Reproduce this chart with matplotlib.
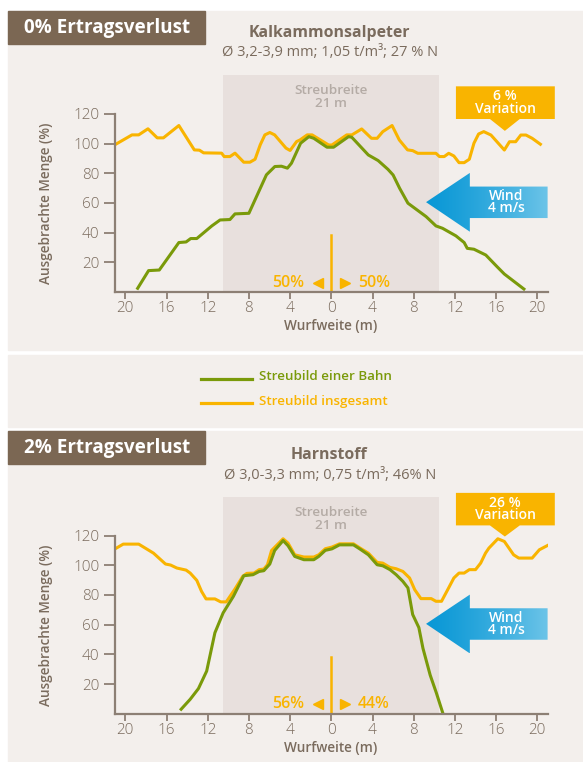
import numpy as np
import matplotlib
matplotlib.use("Agg")
import matplotlib.pyplot as plt
from matplotlib.patches import Rectangle, Polygon
from matplotlib.colors import to_rgb

plt.rcParams['font.family'] = ['Open Sans', 'DejaVu Sans']

# ---- data ----
# Kalkammonsalpeter, 0% Ertragsverlust
ka_gesamt_x = [-20.9, -19.35, -18.7, -17.8, -16.9, -16.3, -14.8, -13.3, -12.8, -12.4, -10.65, -10.4,
               -9.84, -9.35, -8.5, -7.9, -7.4, -6.9, -6.45, -5.97, -5.5, -4.4, -4.0, -3.37, -3.04,
               -2.34, -1.86, -0.26, 0.06, 1.5, 2.0, 2.95, 3.9, 4.45, 5.0, 5.9, 6.6, 7.4, 7.9, 8.4,
               10.16, 10.5, 10.96, 11.4, 11.9, 12.4, 12.9, 13.4, 13.85, 14.3, 14.8, 15.5, 16.8,
               17.3, 17.9, 18.4, 18.9, 19.5, 20.3]
ka_gesamt_y = [99.6, 105.8, 105.8, 109.9, 103.8, 103.8, 112.1, 95.7, 95.5, 93.7, 93.5, 91.2,
               91.2, 93.5, 87.4, 87.4, 89.4, 99.1, 105.8, 107.4, 105.8, 96.9, 95.3, 101.3, 102.4,
               105.8, 105.8, 99.0, 99.0, 105.8, 105.8, 109.8, 103.5, 103.5, 108.0, 112.1, 102.4,
               95.7, 95.2, 93.4, 93.4, 91.2, 91.2, 93.4, 91.6, 87.1, 87.1, 89.4, 100.2, 106.4,
               108.0, 105.7, 95.6, 101.2, 101.2, 105.7, 105.7, 103.5, 99.5]
ka_bahn_x = [-18.8, -17.74, -16.7, -14.8, -14.1, -13.65, -13.06, -11.6, -10.8, -9.84, -9.35, -8.0,
             -6.3, -5.48, -4.84, -4.26, -3.87, -2.98, -2.18, -1.7, -0.42, 0.22, 1.67, 1.99, 3.59,
             4.55, 5.5, 6.0, 6.63, 7.44, 9.2, 10.16, 10.8, 12.1, 12.9, 13.2, 13.85, 15.0, 16.1,
             16.8, 18.7]
ka_bahn_y = [2.5, 14.4, 14.8, 33.3, 33.7, 36.0, 36.0, 44.5, 48.5, 48.8, 52.6, 53.0,
             78.9, 84.5, 84.7, 83.4, 86.7, 100.2, 104.6, 103.5, 97.5, 97.5, 104.6, 104.2, 92.3,
             88.5, 82.6, 78.8, 69.9, 59.8, 50.8, 44.5, 42.9, 37.8, 33.3, 29.4, 28.8, 24.9, 17.0,
             12.1, 2.0]

# Harnstoff, 2% Ertragsverlust
ha_gesamt_x = [-20.87, -20.2, -18.7, -18.06, -17.26, -16.1, -15.6, -15.0, -14.1, -13.7, -13.06,
               -12.6, -12.16, -11.3, -10.74, -10.2, -9.35, -8.6, -8.2, -7.5, -7.0, -6.55, -6.2,
               -5.8, -4.68, -4.2, -3.55, -2.66, -1.7, -1.22, -0.58, 0.06, 0.8, 2.15, 2.8, 3.6,
               4.45, 5.0, 5.7, 6.3, 6.95, 7.6, 8.1, 8.7, 9.7, 10.16, 10.7, 11.3, 11.9, 12.4, 12.9,
               13.4, 14.0, 14.5, 14.97, 15.3, 16.17, 16.8, 17.7, 18.2, 19.5, 20.2, 21.0]
ha_gesamt_y = [111.5, 114.2, 114.2, 111.5, 108.1, 100.8, 100.1, 98.1, 96.7, 94.7, 89.8,
               82.4, 77.3, 77.3, 75.3, 75.3, 84.0, 92.5, 94.5, 94.7, 97.0, 97.4, 100.3,
               109.9, 117.8, 114.9, 107.0, 105.5, 105.5, 107.0, 111.1, 112.2, 114.4, 114.4, 111.5,
               108.1, 101.9, 101.4, 98.5, 97.6, 95.8, 91.4, 83.5, 77.5, 77.5, 75.7, 75.7, 83.5,
               91.4, 94.7, 94.7, 97.0, 97.0, 101.4, 108.1, 111.5, 117.8, 116.0, 107.0, 104.8,
               104.8, 110.4, 113.3]
ha_bahn_x = [-14.58, -13.7, -12.9, -12.1, -11.3, -10.5, -9.5, -8.5, -7.6, -7.0, -6.55, -5.97,
             -5.5, -4.68, -4.2, -3.55, -2.66, -1.7, -1.22, -0.58, 0.06, 0.8, 2.15, 2.8, 3.6,
             4.45, 5.0, 5.7, 6.3, 6.95, 7.44, 7.9, 8.5, 8.9, 9.6, 10.2, 10.8]
ha_bahn_y = [3.0, 9.7, 16.9, 28.7, 54.5, 67.9, 79.1, 92.9, 93.6, 95.8, 96.3, 100.8,
             109.9, 116.6, 113.1, 105.9, 103.7, 103.7, 105.9, 110.0, 111.0, 113.7, 113.7, 110.8,
             107.0, 100.3, 99.6, 97.0, 93.6, 89.1, 84.7, 66.8, 58.0, 44.0, 26.0, 14.0, 1.0]

x_ticks = [-20, -16, -12, -8, -4, 0, 4, 8, 12, 16, 20]
x_ticklabels = [str(abs(t)) for t in x_ticks]
y_ticks = [20, 40, 60, 80, 100, 120]

panels = [
    dict(header="0% Ertragsverlust", title="Kalkammonsalpeter",
         sub="Ø 3,2-3,9 mm; 1,05 t/m³; 27 % N", variation="6 %",
         left_share="50%", right_share="50%",
         gx=ka_gesamt_x, gy=ka_gesamt_y, bx=ka_bahn_x, by=ka_bahn_y),
    dict(header="2% Ertragsverlust", title="Harnstoff",
         sub="Ø 3,0-3,3 mm; 0,75 t/m³; 46% N", variation="26 %",
         left_share="56%", right_share="44%",
         gx=ha_gesamt_x, gy=ha_gesamt_y, bx=ha_bahn_x, by=ha_bahn_y),
]

# ---- style ----
W, H = 583, 762
BG = "#f3efec"
BOX = "#e8e0dd"
BROWN = "#7b6753"
TXT = "#7a6b5d"
AXC = "#8c7f74"
YEL = "#f9b400"
GRN = "#7a9a0a"
STREU = "#b4aba5"
BLUE_L = "#0a98d6"
BLUE_R = "#6cc4e8"

fig = plt.figure(figsize=(W / 100, H / 100), dpi=100)
fig.patch.set_facecolor("white")


def fx(px):
    return px / W


def fy(py):
    return 1 - py / H


def frect(x0, y0, x1, y1, color):
    fig.patches.append(Rectangle((fx(x0), fy(y1)), fx(x1) - fx(x0), fy(y0) - fy(y1),
                                 transform=fig.transFigure, color=color, zorder=-5))


# panel backgrounds
frect(8, 11, 583, 350, BG)
frect(8, 355, 583, 427, BG)
frect(8, 431, 583, 762, BG)

# legend
legend_items = [("Streubild einer Bahn", GRN, 378.5), ("Streubild insgesamt", YEL, 402.5)]
for label, col, ly in legend_items:
    fig.add_artist(plt.Line2D([fx(201), fx(252)], [fy(ly), fy(ly)], color=col, lw=2.3,
                              transform=fig.transFigure))
    fig.text(fx(259), fy(ly - 1.5), label, color=col, fontsize=9.6, fontweight="semibold",
             ha="left", va="center")

YMAX = 146
offsets = [0, 421.7]   # vertical pixel offset of each panel
for p, off in zip(panels, offsets):
    # header block and titles
    frect(8, 11 + off + (0 if off == 0 else -1.7), 205, 44 + off + (0 if off == 0 else -1.7), BROWN)
    hy = 27.5 + off - (0 if off == 0 else 1.7)
    fig.text(fx(107), fy(hy), p["header"], color="white", fontsize=13.6, fontweight="bold",
             ha="center", va="center")
    ty = 33 if off == 0 else 455
    sy = 53 if off == 0 else 475
    fig.text(fx(329), fy(ty), p["title"], color=TXT, fontsize=11.4, fontweight="bold",
             ha="center", va="center")
    fig.text(fx(330), fy(sy), p["sub"], color=TXT, fontsize=10.5, ha="center", va="center")

    axis_y = 292 + off
    ax = fig.add_axes([fx(115), fy(axis_y), fx(547.6) - fx(115), YMAX * 1.485 / H])
    ax.set_facecolor("none")
    ax.set_xlim(-21, 21)
    ax.set_ylim(0, YMAX)

    # Streubreite
    ax.add_patch(Rectangle((-10.5, 0), 21, YMAX, color=BOX, zorder=0, lw=0))
    ax.text(0, 131, "Streubreite\n21 m", color=STREU, fontsize=9.7, fontweight="semibold",
            ha="center", va="center", linespacing=1.0)

    ax.plot(p["gx"], p["gy"], color=YEL, lw=2.2, zorder=3, solid_joinstyle="round")
    ax.plot(p["bx"], p["by"], color=GRN, lw=2.2, zorder=4, solid_joinstyle="round")

    # centre split
    ax.plot([0, 0], [0, 38.5], color=YEL, lw=1.8, zorder=2)
    ax.plot([-1.3], [6.2], marker="<", color=YEL, ms=7, zorder=2)
    ax.plot([1.3], [6.2], marker=">", color=YEL, ms=7, zorder=2)
    ax.text(-2.6, 6.2, p["left_share"], color=YEL, fontsize=11.5, fontweight="semibold",
            ha="right", va="center")
    ax.text(2.6, 6.2, p["right_share"], color=YEL, fontsize=11.5, fontweight="semibold",
            ha="left", va="center")

    # variation callout
    vtop, vbot, vtip = (138.5, 116.5, 108.5) if off == 0 else (148.7, 126.8, 119.3)
    vbox = Polygon([(12.1, vtop), (21.7, vtop), (21.7, vbot), (18.3, vbot), (16.85, vtip),
                    (15.4, vbot), (12.1, vbot)], closed=True, color=YEL, lw=0,
                   clip_on=False, zorder=5)
    ax.add_patch(vbox)
    ax.text(16.9, (vtop + vbot) / 2, p["variation"] + "\nVariation", color="white",
            fontsize=10, fontweight="semibold", ha="center", va="center", zorder=6,
            linespacing=0.85)

    # wind arrow with gradient
    arrow = Polygon([(9.2, 60.5), (13.45, 80.2), (13.45, 71.0), (21.0, 71.0), (21.0, 49.8),
                     (13.45, 49.8), (13.45, 40.6)], closed=True, facecolor="none",
                    edgecolor="none")
    ax.add_patch(arrow)
    c1, c2 = np.array(to_rgb(BLUE_L)), np.array(to_rgb(BLUE_R))
    t = np.linspace(0, 1, 256)[None, :, None]
    grad = c1 + (c2 - c1) * t ** 1.3
    im = ax.imshow(grad, extent=(9.2, 21.0, 40.6, 80.2), aspect="auto", zorder=5,
                   interpolation="bilinear")
    im.set_clip_path(arrow)
    ax.text(17.0, 60.6, "Wind\n4 m/s", color="white", fontsize=10, fontweight="semibold",
            ha="center", va="center", zorder=6, linespacing=0.85)
    ax.set_xlim(-21, 21)
    ax.set_ylim(0, YMAX)

    # axes styling
    for s in ["top", "right"]:
        ax.spines[s].set_visible(False)
    ax.spines["left"].set_bounds(0, 120)
    for s in ["left", "bottom"]:
        ax.spines[s].set_color(AXC)
        ax.spines[s].set_linewidth(1.6)
        ax.spines[s].set_zorder(7)
    ax.set_xticks(x_ticks)
    ax.set_xticklabels(x_ticklabels)
    ax.set_yticks(y_ticks)
    ax.tick_params(axis="y", length=8, width=1.3, color=AXC, labelcolor=TXT, labelsize=11, pad=3)
    ax.tick_params(axis="x", length=5, width=1.3, color=AXC, labelcolor=TXT, labelsize=11, pad=1.5)
    for lab in ax.get_xticklabels() + ax.get_yticklabels():
        lab.set_fontweight("light")

    xl_y = 326 if off == 0 else 747.7
    fig.text(fx(331), fy(xl_y), "Wurfweite (m)", color=TXT, fontsize=9.8, fontweight="semibold",
             ha="center", va="center")
    yl_y = 203 if off == 0 else 625.5
    fig.text(fx(46.5), fy(yl_y), "Ausgebrachte Menge (%)", color=TXT, fontsize=9.8,
             fontweight="semibold", rotation=90, ha="center", va="center")

fig.savefig("out.png", dpi=100, facecolor="white")
